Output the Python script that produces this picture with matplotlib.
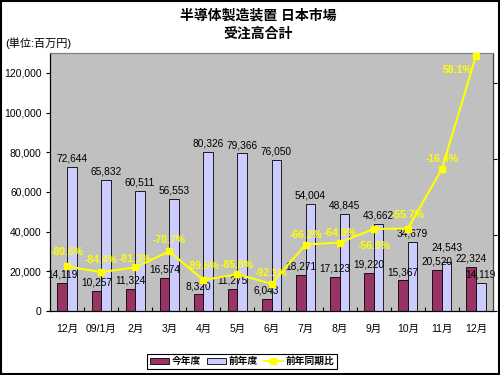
import matplotlib
matplotlib.use("Agg")
import matplotlib.pyplot as plt
import numpy as np
from matplotlib.patches import Rectangle, Patch
from matplotlib.lines import Line2D

plt.rcParams['font.family'] = ['Liberation Sans', 'Noto Sans CJK JP', 'DejaVu Sans']

categories = ["12月", "09/1月", "2月", "3月", "4月", "5月", "6月", "7月", "8月", "9月", "10月", "11月", "12月"]
this_year = [14119, 10257, 11324, 16574, 8320, 11275, 6043, 18271, 17123, 19220, 15367, 20520, 22324]
last_year = [72644, 65832, 60511, 56553, 80326, 79366, 76050, 54004, 48845, 43662, 34679, 24543, 14119]
yoy = [-80.6, -84.4, -81.3, -70.7, -89.6, -85.8, -92.1, -66.2, -64.9, -56.0, -55.7, -16.4, 58.1]
yticks = [0, 20000, 40000, 60000, 80000, 100000, 120000]

# label offsets (points) -- style only
pct_offsets = [(0, 10), (0, 9), (0, 6), (0, 8), (0, 10), (0, 7), (0, 8),
               (0, 7), (0, 7), (0, -12), (0, 10), (0, 7), (-13, -10)]
last_label_dy = [2.5] * 11 + [7, 2.5]

fig = plt.figure(figsize=(5, 3.75), dpi=100)
ax = fig.add_axes([0.1, 0.1707, 0.886, 0.688])
ax.set_facecolor('#C0C0C0')

x = np.arange(len(categories))
w = 0.28
ax.bar(x - w / 2, this_year, w, color='#993366', edgecolor='black', linewidth=0.6, zorder=2)
ax.bar(x + w / 2, last_year, w, color='#CCCCFF', edgecolor='black', linewidth=0.6, zorder=2)

for xi, v in zip(x, this_year):
    ax.annotate(f"{v:,}", (xi - w / 2, v), xytext=(0, 2.5), textcoords='offset points',
                ha='center', va='bottom', fontsize=7.3, color='black', zorder=3)
for xi, v, dy in zip(x, last_year, last_label_dy):
    ax.annotate(f"{v:,}", (xi + w / 2, v), xytext=(0, dy), textcoords='offset points',
                ha='center', va='bottom', fontsize=7.3, color='black', zorder=3)

ax.set_xlim(-0.5, len(categories) - 0.5)
ax.set_ylim(0, 130000)
ax.set_yticks(yticks)
ax.set_yticklabels([f"{t:,}" for t in yticks], fontsize=7.5)
ax.set_xticks(np.arange(len(categories) + 1) - 0.5)
ax.set_xticklabels([])
ax.set_xticks(x, minor=True)
ax.set_xticklabels(categories, minor=True, fontsize=7.5)
ax.tick_params(axis='x', which='major', direction='in', length=3)
ax.tick_params(axis='x', which='minor', length=0, pad=9)
ax.tick_params(axis='y', direction='out', length=3, pad=3)
ax.spines['top'].set_color('#808080')
for s in ['left', 'bottom']:
    ax.spines[s].set_color('black')

ax2 = ax.twinx()
ax2.set_ylim(-110, 60)
ax2.set_yticks([-110, -60, -10, 40])
ax2.set_yticklabels([])
ax2.tick_params(axis='y', direction='out', length=3)
ax2.plot(x, yoy, color='#FFFF00', linewidth=1.5, marker='s', markersize=5,
         markerfacecolor='#FFFF00', markeredgecolor='#FFFF00', zorder=4, clip_on=False)
for xi, v, off in zip(x, yoy, pct_offsets):
    ax2.annotate(f"{v:.1f}%", (xi, v), xytext=off, textcoords='offset points',
                 ha='center', va='center', fontsize=7.5, fontweight='bold', color='#FFFF00', zorder=5)
ax2.spines['top'].set_color('#808080')
ax2.spines['right'].set_color('#404040')

fig.text(0.516, 0.958, "半導体製造装置 日本市場", ha='center', va='center', fontsize=10, fontweight='bold')
fig.text(0.516, 0.910, "受注高合計", ha='center', va='center', fontsize=10, fontweight='bold')
fig.text(0.01, 0.885, "(単位:百万円)", ha='left', va='center', fontsize=8)

handles = [Patch(facecolor='#993366', edgecolor='black', linewidth=0.6),
           Patch(facecolor='#CCCCFF', edgecolor='black', linewidth=0.6),
           Line2D([0], [0], color='#FFFF00', linewidth=1.5, marker='s', markersize=4)]
leg = fig.legend(handles, ["今年度", "前年度", "前年同期比"], loc='center', bbox_to_anchor=(0.484, 0.037),
                 ncol=3, prop={'size': 7, 'weight': 'bold'}, frameon=True, fancybox=False, edgecolor='black',
                 handlelength=2.0, handleheight=0.6, handletextpad=0.25, columnspacing=0.6,
                 borderpad=0.25, borderaxespad=0.2, framealpha=1)
leg.get_frame().set_linewidth(0.8)

fig.patches.append(Rectangle((0.002, 0.003), 0.995, 0.994, transform=fig.transFigure,
                             fill=False, edgecolor='black', linewidth=1.5))

fig.savefig("out.png", dpi=100)
